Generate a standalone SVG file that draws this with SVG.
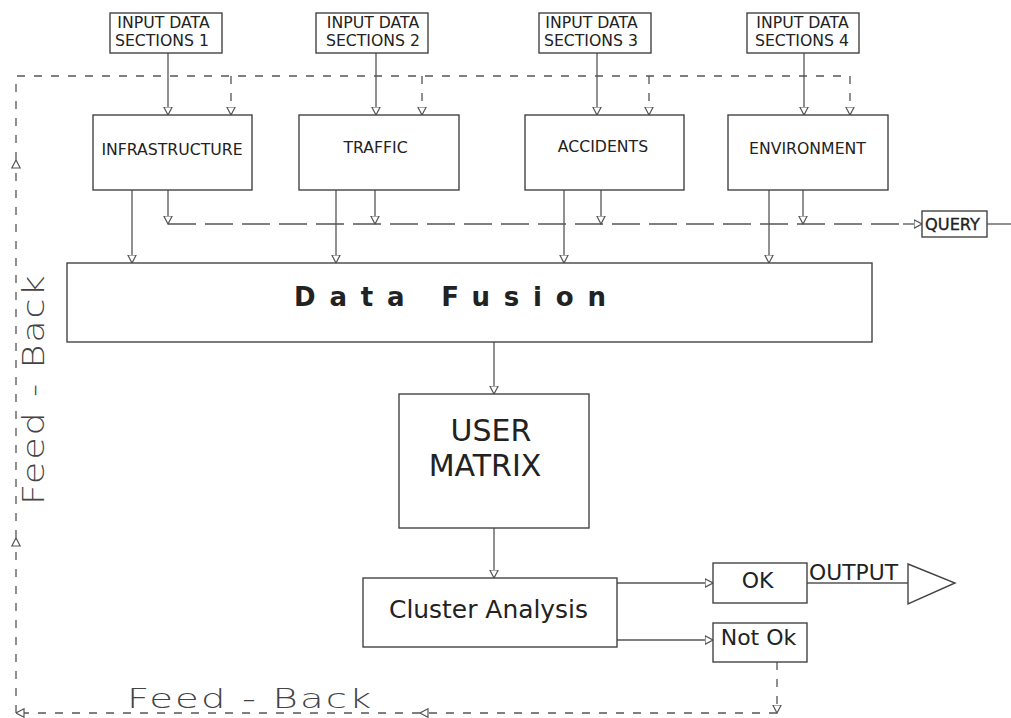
<svg xmlns="http://www.w3.org/2000/svg" width="1011" height="718" viewBox="0 0 1011 718">
  <style>
    .box { fill: #fff; stroke: #444; stroke-width: 1.4; }
    .ln { fill: none; stroke: #555; stroke-width: 1.3; }
    .dash { fill: none; stroke: #555; stroke-width: 1.3; stroke-dasharray: 8 9; }
    .ldash { fill: none; stroke: #555; stroke-width: 1.3; stroke-dasharray: 28 9; }
    .t { font-family: "DejaVu Sans", Verdana, sans-serif; fill: #222; }
    .sm { font-size: 15.7px; }
    .lg { font-size: 22px; }
    .fb { font-family: "DejaVu Sans", sans-serif; font-weight: 200; fill: #444; letter-spacing: 1.5px; }
  </style>
  <defs>
    <marker id="arr" viewBox="0 0 9 10" refX="8.5" refY="5" markerWidth="9" markerHeight="10" markerUnits="userSpaceOnUse" orient="auto">
      <path d="M0.5,0.8 L8.5,5 L0.5,9.2 Z" fill="#fff" stroke="#555" stroke-width="1.2" stroke-dasharray="none"/>
    </marker>
  </defs>

  <rect width="1011" height="718" fill="#fff"/>

  <!-- connectors -->
  <g id="connectors">
    <!-- feedback loop -->
    <path class="dash" d="M777,662 L777,713" marker-end="url(#arr)"/>
    <path class="dash" d="M777,713 L420,713" marker-end="url(#arr)"/>
    <path class="dash" d="M420,713 L16,713" marker-end="url(#arr)"/>
    <path class="dash" d="M16,713 L16,538" marker-end="url(#arr)"/>
    <path class="dash" d="M16,538 L16,160" marker-end="url(#arr)"/>
    <path class="dash" d="M16,160 L16,76 L850,76"/>
    <path class="dash" d="M231,76 L231,115" marker-end="url(#arr)"/>
    <path class="dash" d="M422,76 L422,115" marker-end="url(#arr)"/>
    <path class="dash" d="M649,76 L649,115" marker-end="url(#arr)"/>
    <path class="dash" d="M850,76 L850,115" marker-end="url(#arr)"/>

    <!-- inputs into the sections -->
    <path class="ln" d="M168,53 L168,115" marker-end="url(#arr)"/>
    <path class="ln" d="M376,53 L376,115" marker-end="url(#arr)"/>
    <path class="ln" d="M597,53 L597,115" marker-end="url(#arr)"/>
    <path class="ln" d="M804,53 L804,115" marker-end="url(#arr)"/>

    <!-- sections into data fusion -->
    <path class="ln" d="M132,190 L132,263" marker-end="url(#arr)"/>
    <path class="ln" d="M336,190 L336,263" marker-end="url(#arr)"/>
    <path class="ln" d="M564,190 L564,263" marker-end="url(#arr)"/>
    <path class="ln" d="M769,190 L769,263" marker-end="url(#arr)"/>

    <!-- sections into the query bus -->
    <path class="ln" d="M168,190 L168,224" marker-end="url(#arr)"/>
    <path class="ln" d="M375,190 L375,224" marker-end="url(#arr)"/>
    <path class="ln" d="M601,190 L601,224" marker-end="url(#arr)"/>
    <path class="ln" d="M803,190 L803,224" marker-end="url(#arr)"/>
    <path class="ldash" d="M168,224 L905,224"/>
    <path class="ln" d="M903,224 L922,224" marker-end="url(#arr)"/>
    <path class="ln" d="M987,224 L1011,224"/>

    <!-- main pipeline -->
    <path class="ln" d="M494,342 L494,394" marker-end="url(#arr)"/>
    <path class="ln" d="M494,528 L494,578" marker-end="url(#arr)"/>
    <path class="ln" d="M617,583 L713,583" marker-end="url(#arr)"/>
    <path class="ln" d="M617,640 L713,640" marker-end="url(#arr)"/>
    <path class="ln" d="M807,583 L908,583"/>
  </g>

  <!-- input data sections -->
  <g id="input1">
    <rect class="box" x="110" y="13" width="112" height="40"/>
    <text class="t sm" x="163.5" y="28" text-anchor="middle">INPUT DATA</text>
    <text class="t sm" x="162" y="46" text-anchor="middle">SECTIONS 1</text>
  </g>
  <g id="input2">
    <rect class="box" x="316" y="13" width="112" height="40"/>
    <text class="t sm" x="373" y="28" text-anchor="middle">INPUT DATA</text>
    <text class="t sm" x="373" y="46" text-anchor="middle">SECTIONS 2</text>
  </g>
  <g id="input3">
    <rect class="box" x="539" y="13" width="112" height="40"/>
    <text class="t sm" x="591.5" y="28" text-anchor="middle">INPUT DATA</text>
    <text class="t sm" x="591" y="46" text-anchor="middle">SECTIONS 3</text>
  </g>
  <g id="input4">
    <rect class="box" x="747" y="13" width="112" height="40"/>
    <text class="t sm" x="802.5" y="28" text-anchor="middle">INPUT DATA</text>
    <text class="t sm" x="802" y="46" text-anchor="middle">SECTIONS 4</text>
  </g>

  <!-- data categories -->
  <g id="infrastructure">
    <rect class="box" x="93" y="115" width="159" height="75"/>
    <text class="t sm" x="172" y="155" text-anchor="middle">INFRASTRUCTURE</text>
  </g>
  <g id="traffic">
    <rect class="box" x="299" y="115" width="160" height="75"/>
    <text class="t sm" x="375.5" y="153" text-anchor="middle">TRAFFIC</text>
  </g>
  <g id="accidents">
    <rect class="box" x="525" y="115" width="159" height="75"/>
    <text class="t sm" x="603" y="152" text-anchor="middle">ACCIDENTS</text>
  </g>
  <g id="environment">
    <rect class="box" x="728" y="115" width="160" height="75"/>
    <text class="t sm" x="807.5" y="154" text-anchor="middle">ENVIRONMENT</text>
  </g>

  <g id="query">
    <rect class="box" x="922" y="211" width="65" height="26"/>
    <text class="t" x="925" y="229.5" font-size="16" stroke="#222" stroke-width="0.35" textLength="55" lengthAdjust="spacingAndGlyphs">QUERY</text>
  </g>

  <g id="data-fusion">
    <rect class="box" x="67" y="263" width="805" height="79"/>
    <text class="t" x="294" y="306" font-size="26" font-weight="bold" textLength="312" lengthAdjust="spacing">Data Fusion</text>
  </g>

  <g id="user-matrix">
    <rect class="box" x="399" y="394" width="190" height="134"/>
    <text class="t" x="491" y="441" font-size="30" text-anchor="middle">USER</text>
    <text class="t" x="485" y="476" font-size="30" text-anchor="middle">MATRIX</text>
  </g>

  <g id="cluster-analysis">
    <rect class="box" x="363" y="578" width="254" height="69"/>
    <text class="t" x="389" y="618" font-size="24" textLength="199" lengthAdjust="spacingAndGlyphs">Cluster Analysis</text>
  </g>

  <g id="ok">
    <rect class="box" x="713" y="563" width="94" height="40"/>
    <text class="t lg" x="757.5" y="588" text-anchor="middle">OK</text>
  </g>

  <g id="not-ok">
    <rect class="box" x="713" y="623" width="94" height="39"/>
    <text class="t lg" x="758.5" y="645" text-anchor="middle">Not Ok</text>
  </g>

  <g id="output">
    <text class="t lg" x="809" y="580" textLength="89" lengthAdjust="spacingAndGlyphs">OUTPUT</text>
    <path class="box" d="M908,564 L955,583 L908,604 Z" stroke="#555"/>
  </g>

  <!-- feedback labels, widened to the loop's stencil lettering -->
  <g id="feedback-labels">
    <text class="fb" transform="translate(127,708) scale(1.43,1)" font-size="27">Feed - Back</text>
    <text class="fb" transform="translate(44,505) rotate(-90) scale(1.22,1)" font-size="30">Feed - Back</text>
  </g>
</svg>
